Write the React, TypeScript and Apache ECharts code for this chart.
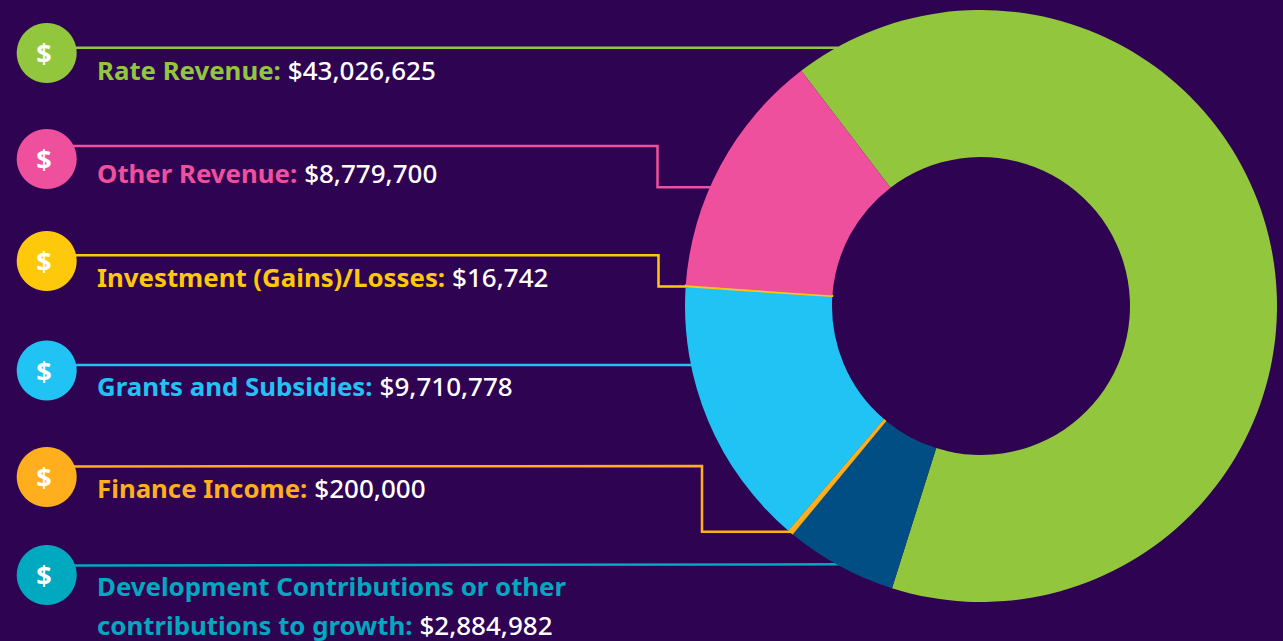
import React, { useEffect, useRef } from "react";
import * as echarts from "echarts";

const categories = [
  "Rate Revenue",
  "Other Revenue",
  "Investment (Gains)/Losses",
  "Grants and Subsidies",
  "Finance Income",
  "Development Contributions or other contributions to growth",
];
const amountLabels = ["$43,026,625", "$8,779,700", "$16,742", "$9,710,778", "$200,000", "$2,884,982"];
// Share of the ring (%), same order as categories
const ringShares = [65.25, 13.5, 0.05, 14.78, 0.3, 6.12];

// Clockwise drawing order of the slices, from the top-left edge of the green one
const ringOrder = [0, 5, 4, 3, 2, 1];

const COLORS = ["#92C73D", "#EF509E", "#FFC90B", "#20C3F4", "#FFAF1D", "#00A9BF"];
const SLICE_COLORS = ["#92C73D", "#EF509E", "#FFC90B", "#20C3F4", "#FFAF1D", "#004E84"];
const BG = "#2E0352";
const FONT = '"Noto Sans", sans-serif';

const badgeY = [53, 159, 261, 370.5, 477, 575];
const labelY = [69.5, 173, 277, 386, 488, 586];
const secondLineY = 625;
const leaderPoints: number[][][] = [
  [[70, 47.7], [838, 47.7]],
  [[70, 146], [657.5, 146], [657.5, 187.3], [711, 187.3]],
  [[70, 255.3], [658.5, 255.3], [658.5, 286.4], [688, 286.4]],
  [[70, 365], [693, 365]],
  [[70, 466.5], [702, 466], [702, 531.7], [793, 531.7]],
  [[70, 565.4], [840, 564.3]],
];

const rich: Record<string, any> = {
  v: { fill: "#FFFFFF", fontSize: 26, fontWeight: 500, fontFamily: FONT, lineHeight: 28, padding: [0, 0, 0, 7] },
};
COLORS.forEach((c, i) => {
  rich[`n${i}`] = { fill: c, fontSize: 25.8, fontWeight: 700, fontFamily: FONT, lineHeight: 28 };
});

function labelLines(i: number): { text: string; y: number }[] {
  if (i === 5) {
    return [
      { text: "{n5|Development Contributions or other}", y: labelY[i] },
      { text: `{n5|contributions to growth:}{v|${amountLabels[i]}}`, y: secondLineY },
    ];
  }
  return [{ text: `{n${i}|${categories[i]}:}{v|${amountLabels[i]}}`, y: labelY[i] }];
}

export default function App() {
  const ref = useRef<HTMLDivElement>(null);
  useEffect(() => {
    document.body.style.margin = "0";
    const chart = echarts.init(ref.current!, null, { renderer: "svg" });
    const graphics: any[] = [];
    categories.forEach((_, i) => {
      graphics.push({
        type: "polyline",
        z: 1,
        shape: { points: leaderPoints[i] },
        style: { stroke: COLORS[i], lineWidth: 2.5, fill: "none" },
      });
      graphics.push({
        type: "circle",
        z: 2,
        shape: { cx: 46.7, cy: badgeY[i], r: 30 },
        style: { fill: COLORS[i] },
      });
      graphics.push({
        type: "text",
        z: 3,
        x: 44,
        y: badgeY[i] + 0.5,
        style: {
          text: "$",
          fill: "#FFFFFF",
          fontSize: 27,
          fontWeight: 700,
          fontFamily: FONT,
          align: "center",
          verticalAlign: "middle",
        },
      });
      labelLines(i).forEach((line) => {
        graphics.push({
          type: "text",
          z: 3,
          x: 97,
          y: line.y,
          style: { text: line.text, rich, align: "left", verticalAlign: "middle" },
        });
      });
    });
    chart.setOption({
      animation: false,
      backgroundColor: BG,
      graphic: graphics,
      series: [
        {
          type: "pie",
          center: [981, 306],
          radius: [149, 296],
          startAngle: 127.4,
          clockwise: true,
          avoidLabelOverlap: false,
          silent: true,
          label: { show: false },
          labelLine: { show: false },
          data: ringOrder.map((i) => ({
            name: categories[i],
            value: ringShares[i],
            itemStyle: {
              color: SLICE_COLORS[i],
              borderColor: i === 2 || i === 4 ? SLICE_COLORS[i] : undefined,
              borderWidth: i === 2 ? 2 : i === 4 ? 0.6 : 0,
            },
          })),
        },
      ],
    });
    return () => chart.dispose();
  }, []);
  return <div ref={ref} style={{ position: "absolute", left: 0, top: 0, width: 1283, height: 641 }} />;
}
